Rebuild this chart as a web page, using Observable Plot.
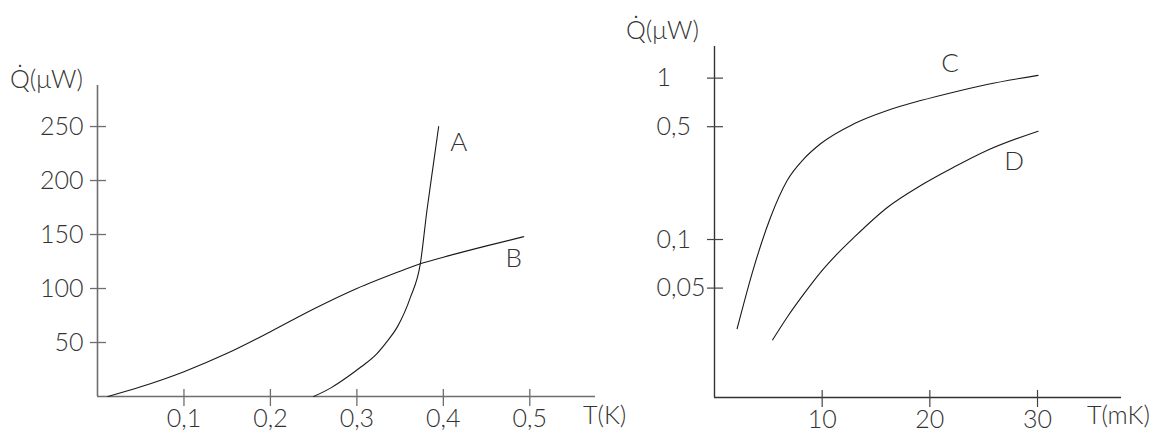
<!DOCTYPE html>
<html>
<head>
<meta charset="utf-8">
<script src="https://cdn.jsdelivr.net/npm/d3@7"></script>
<script src="https://cdn.jsdelivr.net/npm/@observablehq/plot@0.6"></script>
<style>
  html, body { margin: 0; padding: 0; background: #fff; }
  #wrap { position: relative; width: 1163px; height: 437px; overflow: hidden; font-family: Lato, "Noto Sans", sans-serif; color: #333; }
  #wrap svg { position: absolute; left: 0; top: 0; background: transparent; max-width: none; }
  .lbl { position: absolute; font-size: 25px; line-height: 1; white-space: nowrap; color: #333; font-weight: 300; }
</style>
</head>
<body>
<div id="wrap"></div>
<script>
// ---- Left panel data: T in K, Q in µW ----
const tA = [0.25, 0.27, 0.289, 0.305, 0.323, 0.335, 0.3465, 0.362, 0.3734, 0.381, 0.389, 0.3946];
const qA = [0, 8, 18, 27.5, 39.5, 51, 64, 92, 123, 172, 218, 250];
const tB = [0.012, 0.05, 0.1, 0.15, 0.2, 0.25, 0.3, 0.35, 0.3734, 0.4, 0.45, 0.493];
const qB = [0, 9, 23, 40, 60, 81, 100, 116, 123, 129, 139.5, 148];
const leftXTicks = [0.1, 0.2, 0.3, 0.4, 0.5];
const leftYTicks = [50, 100, 150, 200, 250];
const leftXDomain = [0, 0.576];
const leftYDomain = [0, 288];

// ---- Right panel data: T in mK, Q in µW (log) ----
const tC = [2.1, 3.65, 5.2, 6.75, 8.3, 9.85, 12.95, 16.05, 19.15, 22.2, 25.3, 30.05];
const qC = [0.028, 0.067, 0.137, 0.232, 0.316, 0.392, 0.521, 0.63, 0.726, 0.818, 0.913, 1.04];
const tD = [5.4, 6.75, 8.3, 9.85, 11.4, 12.95, 16.05, 19.15, 22.2, 25.3, 30.05];
const qD = [0.0239, 0.033, 0.046, 0.0626, 0.0815, 0.103, 0.158, 0.216, 0.28, 0.356, 0.469];
const rightXTicks = [10, 20, 30];
const rightYTicks = [0.05, 0.1, 0.5, 1];
const rightXDomain = [0, 37.8];
const rightYDomain = [0.0105, 1.57];

const seriesA = tA.map((t, i) => ({t, q: qA[i], s: "A"}));
const seriesB = tB.map((t, i) => ({t, q: qB[i], s: "B"}));
const seriesC = tC.map((t, i) => ({t, q: qC[i], s: "C"}));
const seriesD = tD.map((t, i) => ({t, q: qD[i], s: "D"}));

const comma = d => String(d).replace(".", ",");
const W = 1163, H = 437;
const axisColor = "#6e6e6e";
const lineColor = "#1a1a1a";
const font = "Lato, 'Noto Sans', sans-serif";

const left = Plot.plot({
  width: W, height: H,
  marginLeft: 97, marginRight: W - 595, marginTop: 85, marginBottom: 41,
  style: {background: "transparent", fontFamily: font, fontSize: "25px", color: "#333", overflow: "visible"},
  x: {domain: leftXDomain, label: null},
  y: {domain: leftYDomain, label: null},
  marks: [
    Plot.ruleX([leftXDomain[0]], {stroke: axisColor, strokeWidth: 1.6}),
    Plot.ruleY([leftYDomain[0]], {stroke: axisColor, strokeWidth: 1.6}),
    Plot.axisX({ticks: leftXTicks, tickFormat: comma, tickSize: 17, dy: -7, tickPadding: 3, stroke: axisColor, strokeWidth: 1.3, fill: "#333", fontWeight: 300}),
    Plot.axisY({ticks: leftYTicks, tickSize: 16, dx: 9, tickPadding: 7, stroke: axisColor, strokeWidth: 1.3, fill: "#333", fontWeight: 300}),
    Plot.line(seriesA, {x: "t", y: "q", stroke: lineColor, strokeWidth: 1.1, curve: "monotone-x"}),
    Plot.line(seriesB, {x: "t", y: "q", stroke: lineColor, strokeWidth: 1.1, curve: "monotone-x"}),
    Plot.text(seriesA.slice(-1), {x: "t", y: "q", text: "s", dx: 20, dy: 16, fontSize: 26, fill: "#333", fontWeight: 300}),
    Plot.text(seriesB.slice(-1), {x: "t", y: "q", text: "s", dx: -10, dy: 22, fontSize: 26, fill: "#333", fontWeight: 300})
  ]
});

const right = Plot.plot({
  width: W, height: H,
  marginLeft: 714, marginRight: W - 1121, marginTop: 46, marginBottom: 40,
  style: {background: "transparent", fontFamily: font, fontSize: "25px", color: "#333", overflow: "visible"},
  x: {domain: rightXDomain, label: null},
  y: {type: "log", domain: rightYDomain, label: null},
  marks: [
    Plot.ruleX([rightXDomain[0]], {stroke: "#333", strokeWidth: 1.4}),
    Plot.ruleY([rightYDomain[0]], {stroke: "#333", strokeWidth: 1.4}),
    Plot.axisX({ticks: rightXTicks, tickSize: 17, dy: -7, tickPadding: 3, stroke: "#444", strokeWidth: 1.2, fill: "#333", fontWeight: 300}),
    Plot.axisY({ticks: rightYTicks, tickFormat: comma, tickSize: 16, dx: 9, tickPadding: 51, textAnchor: "start", stroke: "#444", strokeWidth: 1.2, fill: "#333", fontWeight: 300}),
    Plot.line(seriesC, {x: "t", y: "q", stroke: lineColor, strokeWidth: 1.1, curve: "monotone-x"}),
    Plot.line(seriesD, {x: "t", y: "q", stroke: lineColor, strokeWidth: 1.1, curve: "monotone-x"}),
    Plot.text(seriesC.slice(-1), {x: "t", y: "q", text: "s", dx: -88, dy: -12, fontSize: 26, fill: "#333", fontWeight: 300}),
    Plot.text(seriesD.slice(-1), {x: "t", y: "q", text: "s", dx: -24, dy: 30, fontSize: 26, fill: "#333", fontWeight: 300})
  ]
});

const wrap = document.getElementById("wrap");
wrap.appendChild(left);
wrap.appendChild(right);

function label(text, x, y) {
  const d = document.createElement("div");
  d.className = "lbl";
  d.textContent = text;
  d.style.left = x + "px";
  d.style.top = y + "px";
  wrap.appendChild(d);
}
label("Q\u0307(\u03BCW)", 10, 66);
label("Q\u0307(\u03BCW)", 626, 17);
label("T(K)", 583, 402);
label("T(mK)", 1087, 402);
</script>
</body>
</html>
